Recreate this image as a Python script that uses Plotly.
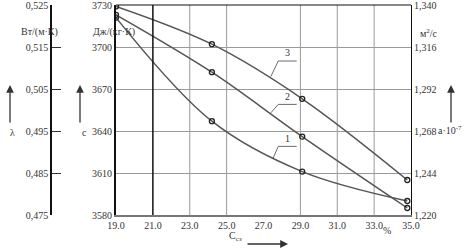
import plotly.graph_objects as go

# ---- data ----
conc = [19.0, 24.2, 29.1, 34.8]
curve1 = [3721, 3647, 3611, 3590]
curve2 = [3723, 3682, 3636, 3585]
curve3 = [3729, 3702, 3663, 3605]

x_ticks = [19, 21, 23, 25, 27, 29, 31, 33, 35]
x_ticktext = ["19.0", "21.0", "23.0", "25.0", "27.0", "29.0", "31.0", "33.0", "35.0"]
c_ticks = [3730, 3700, 3670, 3640, 3610, 3580]
c_ticktext = ["3730", "3700", "3670", "3640", "3610", "3580"]
lam_ticks = [0.525, 0.515, 0.505, 0.495, 0.485, 0.475]
lam_ticktext = ["0,525", "0,515", "0,505", "0,495", "0,485", "0,475"]
a_ticks = [1.340, 1.316, 1.292, 1.268, 1.244, 1.220]
a_ticktext = ["1,340", "1,316", "1,292", "1,268", "1,244", "1,220"]
grid_x = [23, 25, 29, 31, 33]
bold_x = 21

# curve label positions: (label, text x, text y, leader start x, leader start y)
curve_labels = [
    ("3", 28.3, 3696, 27.4, 3679),
    ("2", 28.3, 3665, 27.4, 3653),
    ("1", 28.3, 3635, 27.5, 3620),
]

FONT = "Liberation Serif"
LINE = "#555555"

fig = go.Figure()
for ys in (curve1, curve2, curve3):
    fig.add_trace(go.Scatter(
        x=conc, y=ys, mode="lines+markers",
        line=dict(color=LINE, width=1.5, shape="spline", smoothing=1.0),
        marker=dict(symbol="circle-open", size=5, color="#222", line=dict(width=1.3)),
        showlegend=False, hoverinfo="skip"))

# invisible traces to activate extra axes
fig.add_trace(go.Scatter(x=[19], y=[1.22], yaxis="y2", mode="markers",
                         marker=dict(opacity=0), showlegend=False, hoverinfo="skip"))
fig.add_trace(go.Scatter(x=[19], y=[0.475], yaxis="y3", mode="markers",
                         marker=dict(opacity=0), showlegend=False, hoverinfo="skip"))

L, R, T, B = 51, 61, 5, 36
W, H = 472, 251
plot_w = W - L - R
xdom0 = (116 - L) / plot_w

def px(p):
    return (p - L) / plot_w

def py(p):
    return (H - B - p) / (H - B - T)

tf = dict(family=FONT, size=10, color="#333")

fig.update_layout(
    width=W, height=H,
    margin=dict(l=L, r=R, t=T, b=B, autoexpand=False),
    plot_bgcolor="white", paper_bgcolor="white",
    font=tf,
    xaxis=dict(domain=[xdom0, 1], range=[19, 35], tickvals=x_ticks, ticktext=x_ticktext,
               showgrid=False, zeroline=False, showline=True, linecolor="#777",
               linewidth=2, ticks="", tickfont=tf, automargin=False,
               ticklabeloverflow="allow"),
    yaxis=dict(range=[3580, 3730], tickvals=c_ticks, ticktext=c_ticktext,
               showgrid=True, gridcolor="#999", gridwidth=1, zeroline=False,
               showline=True, linecolor="#111", linewidth=2, ticks="", tickfont=tf,
               automargin=False, ticklabeloverflow="allow"),
    yaxis2=dict(range=[1.220, 1.340], tickvals=a_ticks, ticktext=a_ticktext,
                overlaying="y", side="right", showgrid=False, zeroline=False,
                showline=True, linecolor="#111", linewidth=1, ticks="", tickfont=tf,
                automargin=False, ticklabeloverflow="allow"),
    yaxis3=dict(range=[0.475, 0.525], tickvals=lam_ticks, ticktext=lam_ticktext,
                overlaying="y", side="left", anchor="free", position=0,
                showgrid=False, zeroline=False, showline=True, linecolor="#111",
                linewidth=1.5, ticks="inside", ticklen=9, tickcolor="#333", tickfont=tf,
                automargin=False, ticklabeloverflow="allow"),
)

# top border
fig.add_shape(type="line", xref="x domain", yref="y domain", x0=0, x1=1, y0=1, y1=1,
              line=dict(color="#111", width=1))
# vertical grid lines
for gx in grid_x:
    fig.add_shape(type="line", xref="x", yref="y domain", x0=gx, x1=gx, y0=0, y1=1,
                  line=dict(color="#999", width=1), layer="below")
fig.add_shape(type="line", xref="x", yref="y domain", x0=bold_x, x1=bold_x, y0=0, y1=1,
              line=dict(color="#111", width=1.5))

# curve labels with leader lines
for lab, tx, ty, lx, ly in curve_labels:
    cy = ty - 6
    fig.add_shape(type="line", xref="x", yref="y", x0=lx, y0=ly, x1=tx - 0.5, y1=cy,
                  line=dict(color="#444", width=0.8))
    fig.add_shape(type="line", xref="x", yref="y", x0=tx - 0.5, y0=cy, x1=tx + 0.5, y1=cy,
                  line=dict(color="#444", width=0.8))
    fig.add_annotation(x=tx, y=ty, xref="x", yref="y", text=lab, showarrow=False,
                       font=tf, yanchor="middle")

def txt(text, xpix, ypix, **kw):
    fig.add_annotation(x=px(xpix), y=py(ypix), xref="paper", yref="paper", text=text,
                       showarrow=False, font=tf, **kw)

def arrow(xpix, yhead, ytail):
    fig.add_annotation(x=px(xpix), y=py(yhead), xref="paper", yref="paper", text="",
                       showarrow=True, arrowhead=2, arrowsize=1.2, arrowwidth=1.3,
                       arrowcolor="#333", ax=0, ay=ytail - yhead)

txt("Вт/(м·К)", 19, 24)
txt("Дж/(кг·К)", 91, 24)
txt("λ", 8, 132)
txt("c", 80, 132)
arrow(10, 85, 124)
arrow(80, 85, 124)

txt("м<sup>2</sup>/с", 440, 25)
txt("a·10<sup>-7</sup>", 464, 130)
arrow(451, 85, 124)

txt("C<sub>сз</sub>", 236, 245)
fig.add_annotation(x=px(288), y=py(244), xref="paper", yref="paper", text="",
                   showarrow=True, arrowhead=2, arrowsize=1.2, arrowwidth=1.3,
                   arrowcolor="#333", ax=-42, ay=0)
txt("%", 393, 238)

fig.write_html("out.html", config={"displayModeBar": False},
               post_script="document.body.style.margin='0';")
